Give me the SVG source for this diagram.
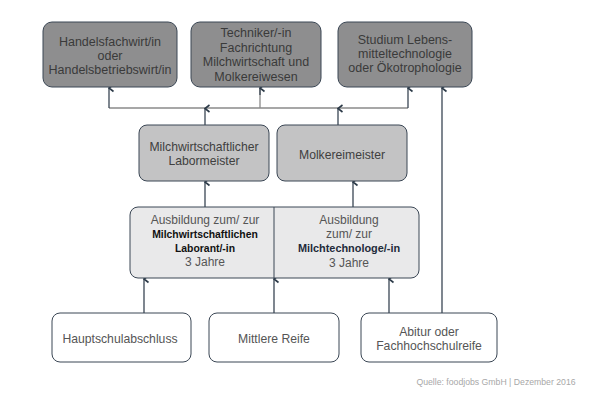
<svg xmlns="http://www.w3.org/2000/svg" width="589" height="406" viewBox="0 0 589 406">
<style>
text{font-family:"Liberation Sans",Arial,sans-serif;font-size:12px;text-anchor:middle}
.top rect{fill:#8e8e8f;stroke:#3a4654;stroke-width:1}
.top text{fill:#3a3a3a;font-size:12.5px}
.mid rect{fill:#c3c3c4;stroke:#3a4654;stroke-width:1}
.mid text{fill:#404040;font-size:12.2px}
.big rect{fill:#e9e9ea;stroke:#3a4654;stroke-width:1}
.big text{fill:#555}
.big text.b{font-weight:bold;fill:#111;font-size:10.4px}
.big text.b2{font-weight:bold;fill:#1f2b3a;font-size:10.9px}
.bot rect{fill:#fff;stroke:#3a4654;stroke-width:1}
.bot text{fill:#555;font-size:12.2px}
.c path{fill:none;stroke:#3a4654;stroke-width:1.3}
.c path.g{stroke:#8a8a8a}
</style>
<defs>
<marker id="ah" viewBox="-5 -1 10 8" refX="0" refY="0" markerWidth="10" markerHeight="8" markerUnits="userSpaceOnUse" orient="auto-start-reverse">
<path d="M-3.5,4.5 L0,0 L3.5,4.5" fill="none" stroke="#2c3a48" stroke-width="1.6"/>
</marker>
</defs>
<rect width="589" height="406" fill="#fff"/>
<g class="c">
<path class="g" d="M109,108 H408"/>
<path d="M109,108 V88" marker-end="url(#ah)"/>
<path class="g" d="M260,108 V88"/>
<path d="M260,95 V88" marker-end="url(#ah)"/>
<path d="M408,108 V88" marker-end="url(#ah)"/>
<path d="M205,125 V108.5" marker-end="url(#ah)"/>
<path d="M338,125 V108.5" marker-end="url(#ah)"/>
<path d="M205,207 V182" marker-end="url(#ah)"/>
<path d="M353,207 V182" marker-end="url(#ah)"/>
<path d="M144,313 V279" marker-end="url(#ah)"/>
<path d="M274,313 V279" marker-end="url(#ah)"/>
<path d="M389,313 V279" marker-end="url(#ah)"/>
<path d="M442,313 V88" marker-end="url(#ah)"/>
</g>
<g id="n1" class="top"><rect x="43" y="22" width="134" height="65" rx="9"/>
<text x="110" y="46">Handelsfachwirt/in</text><text x="110" y="60">oder</text><text x="110" y="74">Handelsbetriebswirt/in</text></g>
<g id="n2" class="top"><rect x="191" y="22" width="130" height="65" rx="9"/>
<text x="256" y="37">Techniker/-in</text><text x="256" y="51.5">Fachrichtung</text><text x="256" y="66">Milchwirtschaft und</text><text x="256" y="80.5">Molkereiwesen</text></g>
<g id="n3" class="top"><rect x="338" y="22" width="134" height="65" rx="9"/>
<text x="405" y="44">Studium Lebens-</text><text x="405" y="58">mitteltechnologie</text><text x="405" y="72">oder Ökotrophologie</text></g>
<g id="n4" class="mid"><rect x="139" y="125" width="130" height="56" rx="8"/>
<text x="204" y="151">Milchwirtschaftlicher</text><text x="204" y="165">Labormeister</text></g>
<g id="n5" class="mid"><rect x="277" y="125" width="130" height="56" rx="8"/>
<text x="342" y="159">Molkereimeister</text></g>
<g id="n6" class="big"><rect x="130" y="207" width="289" height="71" rx="8"/>
<path d="M274,207 V278" stroke="#3a4654" stroke-width="1"/>
<text x="205" y="224">Ausbildung zum/ zur</text>
<text class="b" x="205" y="238">Milchwirtschaftlichen</text>
<text class="b" x="205" y="252">Laborant/-in</text>
<text x="205" y="266">3 Jahre</text>
<text x="349" y="224">Ausbildung</text>
<text x="349" y="238">zum/ zur</text>
<text class="b2" x="349" y="252">Milchtechnologe/-in</text>
<text x="349" y="267">3 Jahre</text></g>
<g id="n7" class="bot"><rect x="52" y="313" width="139" height="49" rx="8"/>
<text x="120" y="343">Hauptschulabschluss</text></g>
<g id="n8" class="bot"><rect x="209" y="313" width="130" height="49" rx="8"/>
<text x="274" y="343">Mittlere Reife</text></g>
<g id="n9" class="bot"><rect x="361" y="313" width="136" height="49" rx="8"/>
<text x="429" y="336">Abitur oder</text><text x="429" y="350">Fachhochschulreife</text></g>
<text x="496" y="385" style="font-size:8.7px;fill:#a8a8a8">Quelle: foodjobs GmbH | Dezember 2016</text>
</svg>
